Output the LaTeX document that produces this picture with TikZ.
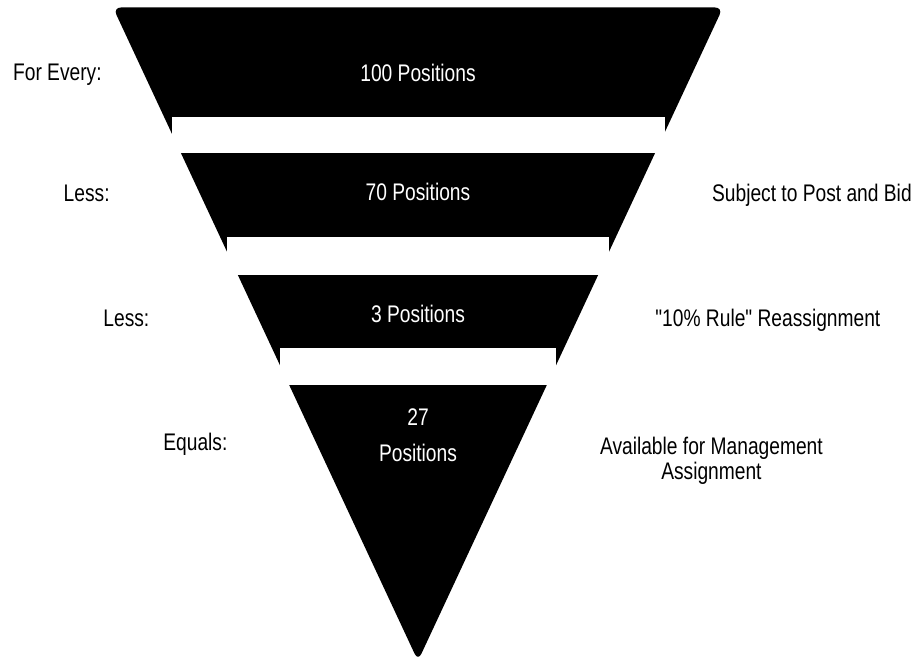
\documentclass[tikz,border=0pt]{standalone}
\usepackage{fontspec}
\newfontfamily\lblfont[FakeStretch=0.8]{Liberation Sans}
\usepackage{tkz-euclide}

\begin{document}
\begin{tikzpicture}[x=0.5pt, y=0.5pt,
    lbl/.style = {inner sep=0pt, font=\lblfont\fontsize{12}{12.5}\selectfont},
    tier/.style = {lbl, text=white}]
    \useasboundingbox (0,0) rectangle (915,658);
    \tkzDefPoints{113/650.5/A, 723/650.5/B, 418/-3/C}
    \fill[rounded corners=4pt] (A) -- (B) -- (C) -- cycle;
    \fill[white] (171.7,504.7) rectangle (665,541.3);
    \fill[white] (227.3,383) rectangle (609.3,420.7);
    \fill[white] (280,273) rectangle (556,309.7);

    \node[tier, anchor=base] (t100) at (418,576.7) {100 Positions};
    \node[tier, anchor=base] (t70) at (418,457) {70 Positions};
    \node[tier, anchor=base] (t3) at (418,335.3) {3 Positions};
    \node[tier, anchor=north, align=center, font=\lblfont\fontsize{12}{17.8}\selectfont] (t27) at (418,249.5) {27\\Positions};

    \node[lbl, anchor=base west] (every) at (12.7,577) {For Every:};
    \node[lbl, anchor=base west] (less1) at (63.3,456.3) {Less:};
    \node[lbl, anchor=base west] (less2) at (103,331) {Less:};
    \node[lbl, anchor=base west] (equals) at (163,207) {Equals:};

    \node[lbl, anchor=base west] (post) at (711.7,456.3) {Subject to Post and Bid};
    \node[lbl, anchor=base west] (rule) at (655,331.3) {"10\% Rule" Reassignment};
    \node[lbl, anchor=north, align=center] (mgmt) at (711.4,221.3) {Available for Management\\Assignment};
\end{tikzpicture}
\end{document}
